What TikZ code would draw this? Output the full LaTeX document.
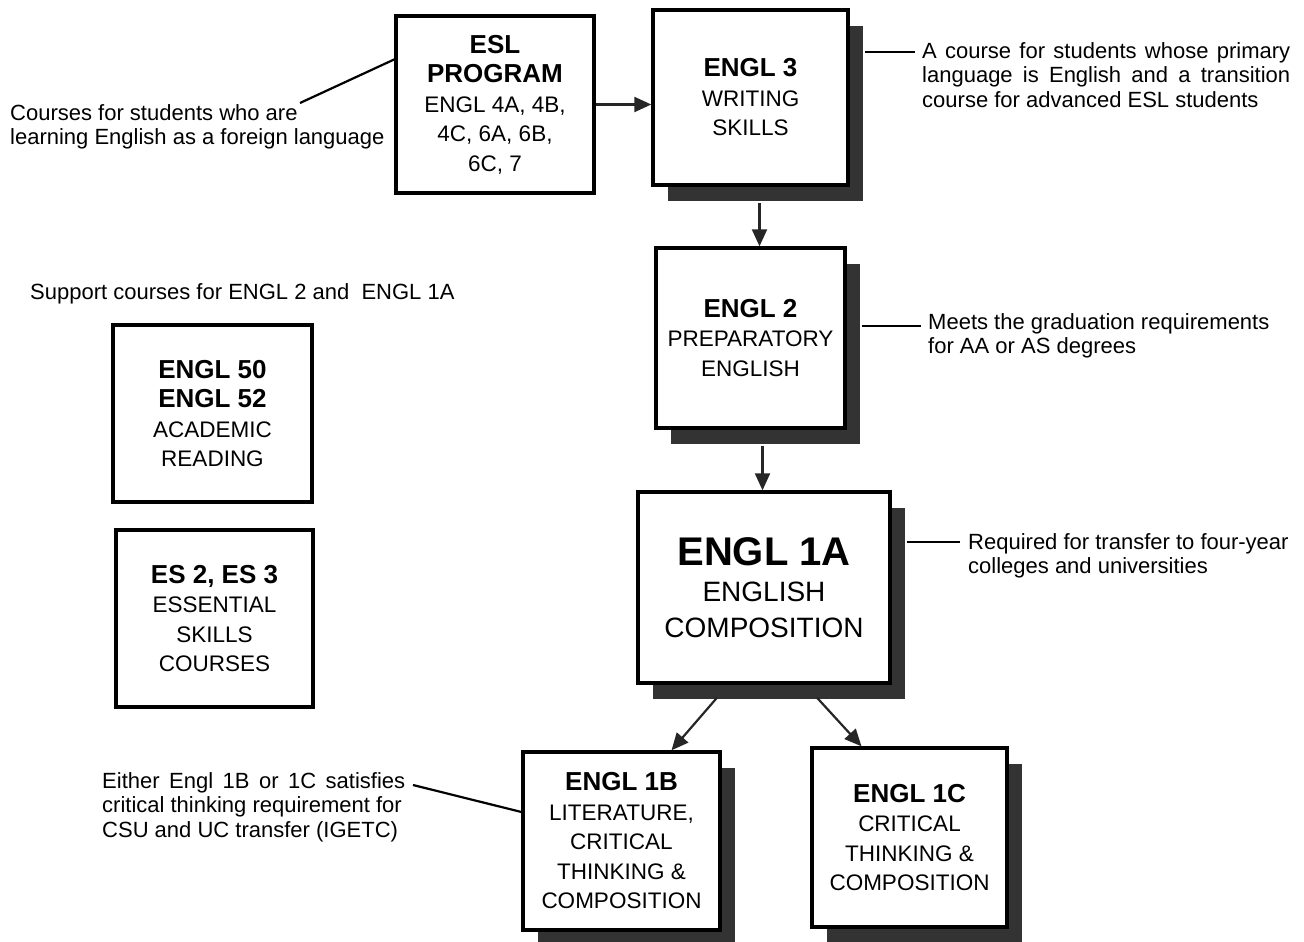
\documentclass[tikz,border=0pt]{standalone}
\usepackage{fontspec}
\setmainfont{Liberation Sans}
\usetikzlibrary{positioning,shadows,calc,arrows.meta}

\newcommand{\crs}[1]{{\fontsize{26}{29.5}\selectfont\bfseries #1}}
\newcommand{\bigcrs}[1]{{\fontsize{40}{36}\selectfont\bfseries #1}}

\tikzset{
  course/.style={draw, line width=3.4pt, fill=white, align=center, inner sep=0pt,
    font=\fontsize{22.5}{29.5}\selectfont},
  shaded/.style={drop shadow={shadow xshift=15pt, shadow yshift=-16pt,
    fill=black!80, opacity=1}},
  note/.style={align=left, inner sep=0pt, anchor=north west,
    font=\fontsize{22}{24.5}\selectfont},
  link/.style={line width=2.2pt},
  flow/.style={line width=2.2pt, draw=black!85,
    -{Triangle[length=17pt,width=15pt]}},
}

\begin{document}
\begin{tikzpicture}[x=1pt, y=-1pt]
\useasboundingbox (0,0) rectangle (1304,942);

% course boxes
\node[course, minimum width=198pt, minimum height=177pt] (esl) at (495,104.5)
  {\crs{ESL}\\\crs{PROGRAM}\\ENGL 4A, 4B,\\4C, 6A, 6B,\\6C, 7};
\node[course, shaded, minimum width=195pt, minimum height=175pt] (engl3) at (750.5,97.5)
  {\crs{ENGL 3}\\WRITING\\SKILLS};
\node[course, shaded, minimum width=189pt, minimum height=180pt] (engl2) at (750.5,338)
  {\crs{ENGL 2}\\PREPARATORY\\ENGLISH};
\node[course, shaded, minimum width=252pt, minimum height=191pt,
  font=\fontsize{28}{36}\selectfont] (engl1a) at (764,587.5)
  {\bigcrs{ENGL 1A}\\ENGLISH\\COMPOSITION};
\node[course, shaded, minimum width=197pt, minimum height=178pt] (engl1b) at (621.5,841)
  {\crs{ENGL 1B}\\LITERATURE,\\CRITICAL\\THINKING \&\\COMPOSITION};
\node[course, shaded, minimum width=195pt, minimum height=179pt] (engl1c) at (909.5,837.5)
  {\crs{ENGL 1C}\\CRITICAL\\THINKING \&\\COMPOSITION};
\node[course, minimum width=199pt, minimum height=177pt] (engl50) at (212.5,413.5)
  {\crs{ENGL 50}\\\crs{ENGL 52}\\ACADEMIC\\READING};
\node[course, minimum width=197pt, minimum height=177pt] (es) at (214.5,618.5)
  {\crs{ES 2, ES 3}\\ESSENTIAL\\SKILLS\\COURSES};

% notes
\node[note] (noteesl) at (10,104)
  {Courses for students who are\\learning English as a foreign language};
\node[note] (note3) at (922,42)
  {\makebox[368pt][s]{A course for students whose primary}\\
   \makebox[368pt][s]{language is English and a transition}\\
   course for advanced ESL students};
\node[note] (note2) at (928,313)
  {Meets the graduation requirements\\for AA or AS degrees};
\node[note] (note1a) at (968,533)
  {Required for transfer to four-year\\colleges and universities};
\node[note] (note1b) at (102,772)
  {\makebox[303pt][s]{Either Engl 1B or 1C satisfies}\\
   critical thinking requirement for\\CSU and UC transfer (IGETC)};
\node[note] (support) at (30,283) {Support courses for ENGL 2 and~~ENGL 1A};

% arrows
\draw[flow] (esl.east) -- (esl.east -| engl3.west);
\draw[flow] ([xshift=9pt,yshift=-16pt]engl3.south) -- ([xshift=9pt]engl3.south |- engl2.north);
\draw[flow] ([xshift=12pt,yshift=-16pt]engl2.south) -- ([xshift=12pt]engl2.south |- engl1a.north);
\draw[flow] ([xshift=-47pt,yshift=-13pt]engl1a.south) -- ([xshift=50pt]engl1b.north);
\draw[flow] ([xshift=53pt,yshift=-13pt]engl1a.south) -- ([xshift=-48pt]engl1c.north);

% note lines
\coordinate (esltail) at (300,103);
\coordinate (bytail) at (413,785);
\draw[link] (esltail) -- ($(esl.north west)!0.25!(esl.south west)$);
\draw[link, shorten >=7pt] ([xshift=15pt]engl3.east |- 0,52) -- (note3.west |- 0,52);
\draw[link, shorten >=7pt] ([xshift=15pt]engl2.east |- 0,326) -- (note2.west |- 0,326);
\draw[link, shorten >=8pt] ([xshift=15pt]engl1a.east |- 0,542) -- (note1a.west |- 0,542);
\draw[link] (bytail) -- ($(engl1b.north west)!0.34!(engl1b.south west)$);
\end{tikzpicture}
\end{document}
